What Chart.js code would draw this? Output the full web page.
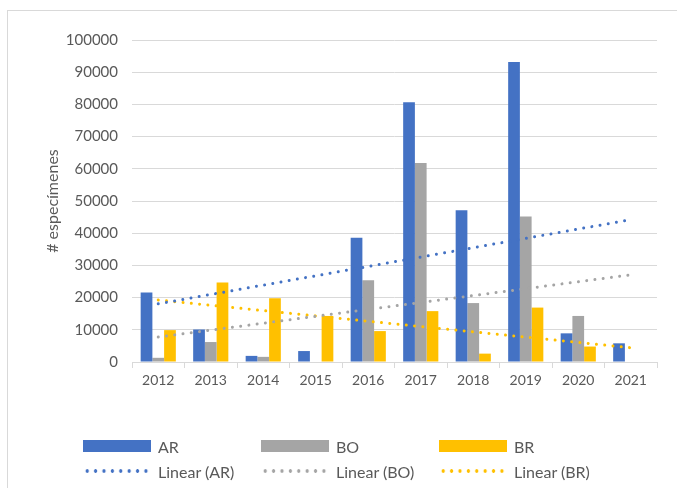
<!DOCTYPE html>
<html>
<head>
<meta charset="utf-8">
<script src="https://cdn.jsdelivr.net/npm/chart.js@4.4.1/dist/chart.umd.min.js"></script>
<style>
  body { margin: 0; background: #fff; }
  #wrap { position: relative; width: 677px; height: 488px; overflow: hidden; font-family: Lato, "Open Sans", sans-serif; }
  #frame { position: absolute; left: 7px; top: 10px; width: 720px; height: 520px; border: 1px solid #d9d9d9; }
  #myChart { position: absolute; left: 0; top: 0; }
  .leg { position: absolute; display: flex; align-items: center; color: #595959; font-size: 16px; white-space: nowrap; }
  .swatch { width: 68px; height: 12px; margin-right: 7px; }
  .dots { width: 68px; height: 4px; margin-right: 7px; background-size: 8.4px 4px; background-repeat: repeat-x; }
</style>
</head>
<body>
<div id="wrap">
  <div id="frame"></div>
  <canvas id="myChart" width="677" height="488"></canvas>
  <div id="legend"></div>
</div>
<script>
const years = ["2012", "2013", "2014", "2015", "2016", "2017", "2018", "2019", "2020", "2021"];
const arValues = [21600, 10100, 1900, 3400, 38600, 80700, 47100, 93200, 8900, 5800];
const boValues = [1300, 6200, 1600, 0, 25400, 61800, 18300, 45200, 14300, 0];
const brValues = [9900, 24700, 19800, 14300, 9600, 15800, 2600, 16900, 4800, 0];
const seriesNames = ["AR", "BO", "BR"];
const seriesColors = ["#4472C4", "#A5A5A5", "#FFC000"];

// least squares line, same as excel "Linear" trendline
const linearFit = (values) => {
  const n = values.length;
  let sx = 0, sy = 0, sxy = 0, sxx = 0;
  values.forEach((v, i) => { sx += i; sy += v; sxy += i * v; sxx += i * i; });
  const slope = (n * sxy - sx * sy) / (n * sxx - sx * sx);
  const b = (sy - slope * sx) / n;
  return values.map((v, i) => b + slope * i);
};

const allValues = [arValues, boValues, brValues];
const fontFamily = "Lato, 'Open Sans', sans-serif";
const textColor = "#595959";
const gridColor = "#d9d9d9";

let datasets = [];
for (let i = 0; i < allValues.length; i++) {
  datasets.push({
    type: "bar",
    label: seriesNames[i],
    data: allValues[i],
    backgroundColor: seriesColors[i],
    categoryPercentage: 0.67,
    barPercentage: 1.0,
    order: 2,
  });
}
for (let i = 0; i < allValues.length; i++) {
  datasets.push({
    type: "line",
    label: `Linear (${seriesNames[i]})`,
    data: linearFit(allValues[i]),
    borderColor: seriesColors[i],
    borderWidth: 3,
    borderDash: [0.01, 8.3],
    borderCapStyle: "round",
    pointRadius: 0,
    fill: false,
    order: 1,
  });
}

const ctx = document.getElementById("myChart");

new Chart(ctx, {
  type: "bar",
  data: {
    labels: years,
    datasets: datasets,
  },
  options: {
    responsive: false,
    animation: false,
    layout: {
      padding: { top: 40, right: 20, bottom: 86, left: 0 },
    },
    plugins: {
      legend: { display: false },
      tooltip: { enabled: false },
    },
    scales: {
      x: {
        grid: {
          offset: true,
          drawOnChartArea: false,
          drawTicks: true,
          tickLength: 6,
          color: gridColor,
        },
        border: { display: true, color: gridColor },
        ticks: { color: textColor, font: { size: 14, family: fontFamily }, padding: 4 },
        afterFit: (scale) => { scale.height = 40; },
      },
      y: {
        min: 0,
        max: 100000,
        ticks: {
          stepSize: 10000,
          color: textColor,
          font: { size: 15, family: fontFamily },
          padding: 14,
          callback: (v) => String(v),
        },
        grid: { color: gridColor, drawTicks: false },
        border: { display: false },
        title: {
          display: true,
          text: "# especímenes",
          color: textColor,
          font: { size: 16, family: fontFamily },
          padding: { top: 43, bottom: 0 },
        },
        afterFit: (scale) => { scale.width = 132; },
      },
    },
  },
});

// legend, 2 rows x 3 columns like the excel one
const legend = document.getElementById("legend");
const legendX = [83, 261, 439];
const legendY = [446, 471];
for (let row = 0; row < 2; row++) {
  for (let i = 0; i < seriesNames.length; i++) {
    const label = row === 0 ? seriesNames[i] : `Linear (${seriesNames[i]})`;
    const mark = row === 0
      ? `<div class="swatch" style="background:${seriesColors[i]}"></div>`
      : `<div class="dots" style="background-image:radial-gradient(circle, ${seriesColors[i]} 1.5px, transparent 2px)"></div>`;
    legend.innerHTML += `
      <div class="leg" style="left:${legendX[i]}px; top:${legendY[row] - 10}px; height:20px;">
        ${mark}<span>${label}</span>
      </div>`;
  }
}
</script>
</body>
</html>
